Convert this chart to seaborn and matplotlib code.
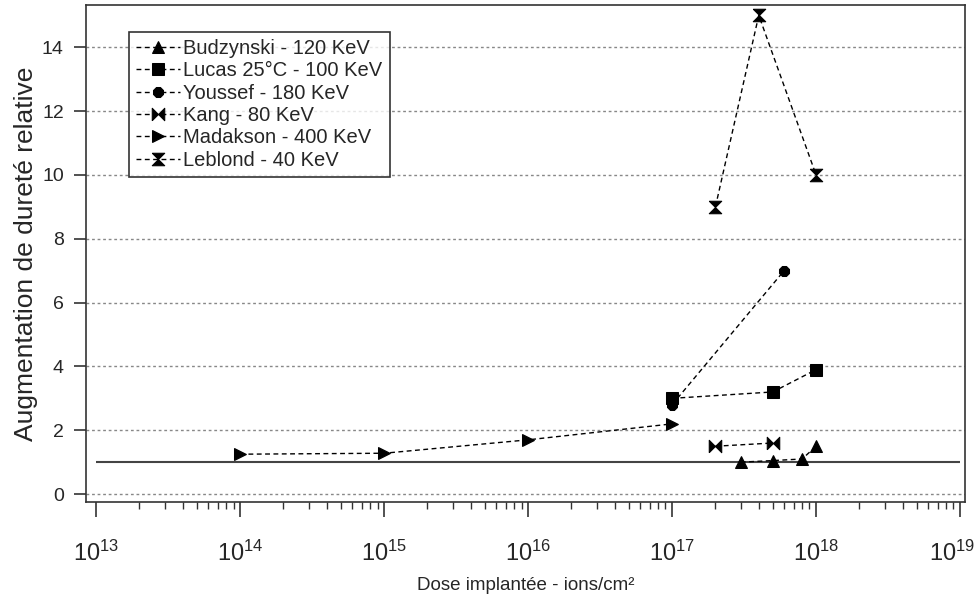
import numpy as np
import pandas as pd
import matplotlib
matplotlib.use("Agg")
import matplotlib.pyplot as plt
import matplotlib.transforms as mtransforms
import seaborn as sns
from matplotlib.ticker import FixedLocator, NullFormatter

# Données
budzynski_x = [3e17, 5e17, 8e17, 1e18]
budzynski_y = [1.0, 1.05, 1.1, 1.5]
lucas_x = [1e17, 5e17, 1e18]
lucas_y = [3.0, 3.2, 3.9]
youssef_x = [1e17, 6e17]
youssef_y = [2.8, 7.0]
kang_x = [2e17, 5e17]
kang_y = [1.5, 1.6]
madakson_x = [1e14, 1e15, 1e16, 1e17]
madakson_y = [1.25, 1.28, 1.7, 2.2]
leblond_x = [2e17, 4e17, 1e18]
leblond_y = [9.0, 15.0, 10.0]

labels = ["Budzynski - 120 KeV", "Lucas 25°C - 100 KeV", "Youssef - 180 KeV",
          "Kang - 80 KeV", "Madakson - 400 KeV", "Leblond - 40 KeV"]
y_ticks = [0, 2, 4, 6, 8, 10, 12, 14]
x_decades = [13, 14, 15, 16, 17, 18, 19]

# marqueurs "noeud papillon" et "sablier"
bowtie = [(-1, -1), (0, 0), (1, -1), (1, 1), (0, 0), (-1, 1), (-1, -1)]
hourglass = [(-1, 1), (1, 1), (0, 0), (1, -1), (-1, -1), (0, 0), (-1, 1)]

series = [
    (budzynski_x, budzynski_y, "^", 8),
    (lucas_x, lucas_y, "s", 8),
    (youssef_x, youssef_y, "8", 7.5),
    (kang_x, kang_y, bowtie, 9),
    (madakson_x, madakson_y, ">", 8),
    (leblond_x, leblond_y, hourglass, 9),
]

sns.set_style("ticks")
plt.rcParams["font.family"] = ["Liberation Sans", "DejaVu Sans"]
plt.rcParams["mathtext.default"] = "regular"

fig = plt.figure(figsize=(9.8, 6.02), dpi=100)
ax = fig.add_axes([0.0878, 0.166, 0.897, 0.826])

ax.set_xscale("log")
for y in y_ticks:
    ax.axhline(y, color="#888888", lw=1, ls=(0, (2, 2)), zorder=0)
ax.hlines(1, 1e13, 1e19, color="#444444", lw=1.5, zorder=1)

for (xs, ys, m, ms), lab in zip(series, labels):
    df = pd.DataFrame({"dose": xs, "durete": ys})
    sns.lineplot(data=df, x="dose", y="durete", ax=ax, color="black", lw=1,
                 linestyle=(0, (3.5, 2.5)), marker=m, markersize=ms,
                 markeredgecolor="black", markerfacecolor="black",
                 sort=False, estimator=None, label=lab, zorder=3)

ax.set_xlim(10 ** 12.93, 10 ** 19.035)
ax.set_ylim(-0.25, 15.33)
ax.set_yticks(y_ticks)
major = [10.0 ** d for d in x_decades]
minor = [k * 10.0 ** d for d in x_decades[:-1] for k in range(2, 10)]
ax.xaxis.set_major_locator(FixedLocator(major))
ax.set_xticklabels([f"$10^{{{d}}}$" for d in x_decades])
ax.xaxis.set_minor_locator(FixedLocator(minor))
ax.xaxis.set_minor_formatter(NullFormatter())

for s in ax.spines.values():
    s.set_visible(True)
    s.set_color("#333333")
    s.set_linewidth(1.2)

ax.tick_params(axis="y", length=9, width=1.2, color="#333333", labelsize=14, pad=7)
ax.tick_params(axis="x", which="major", length=11, width=1.2, color="#333333",
               labelsize=17, pad=17)
ax.tick_params(axis="x", which="minor", length=5, width=1, color="#333333")

# le dernier libellé (10^19) est poussé un peu à gauche pour rester dans l'image
last = ax.get_xticklabels()[-1]
last.set_transform(last.get_transform() +
                   mtransforms.ScaledTranslation(-8 / 100, 0, fig.dpi_scale_trans))

ax.set_xlabel("Dose implantée - ions/cm²", fontsize=13.5, labelpad=8)
ax.set_ylabel("Augmentation de dureté relative", fontsize=19, labelpad=3)

leg = ax.legend(loc="upper left", bbox_to_anchor=(0.049, 0.946), fontsize=14.5,
                frameon=True, fancybox=False, edgecolor="black",
                handlelength=2.2, handletextpad=0.15, labelspacing=0.17,
                borderpad=0.35, borderaxespad=0)
leg.get_frame().set_linewidth(1.2)

fig.savefig("out.png", dpi=100)
